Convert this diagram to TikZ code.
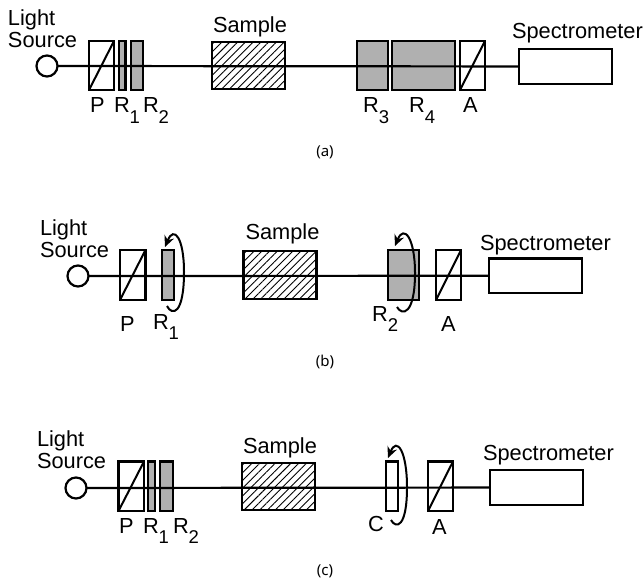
\documentclass[tikz,border=0pt]{standalone}
\usepackage{fontspec}
\setmainfont{Liberation Sans}
\newfontfamily\capfont{Noto Sans}
\usetikzlibrary{arrows.meta,patterns.meta}
\definecolor{waveplate}{HTML}{B0B0B0}
\newcommand{\bx}[6]{\node[#2,minimum width={(#5-#3)*1pt},minimum height={(#6-#4)*1pt}] (#1) at ({(#3+#5)/2},{(#4+#6)/2}) {};}
\newcommand{\rsub}[1]{R\raisebox{-10.5pt}{\fontsize{18.5}{18.5}\selectfont #1}}
\newcommand{\lbl}[4]{\node[txt] (#1) at (#2,#3) {#4};}
\tikzset{
 x=1pt,y=-1pt,
 part/.style={draw=black,line width=2.2pt,inner sep=0pt,outer sep=0pt},
 clearbox/.style={part,fill=white},
 plate/.style={part,fill=waveplate},
 samplebox/.style={part,pattern={Lines[angle=45,distance=5.5pt,line width=0.9pt]}},
 src/.style={draw=black,line width=2.2pt,circle,fill=white,minimum size=21pt,inner sep=0pt,outer sep=0pt},
 beam/.style={line width=2.2pt},
 diag/.style={line width=2pt},
 turn/.style={line width=2pt,-{Stealth[length=11pt,width=10pt]}},
 txt/.style={anchor=base west,inner sep=0pt,outer sep=0pt,font=\fontsize{21.8}{21.8}\selectfont},
 captxt/.style={inner sep=0pt,font=\capfont\fontsize{15}{15}\selectfont},
}
\begin{document}
\begin{tikzpicture}
\useasboundingbox (0,0) rectangle (644,583);
% ---------- (a)
\node[src] (as) at (47,66) {};
\bx{ap}{clearbox}{89}{41}{114}{90}
\bx{ar1}{plate}{119}{41}{125.5}{90}
\bx{ar2}{plate}{131}{41}{143}{90}
\bx{asa}{samplebox}{212}{42}{285}{89}
\bx{ar3}{plate}{357}{41}{388}{90}
\bx{ar4}{plate}{392}{41}{455}{90}
\bx{aa}{clearbox}{460}{41}{485}{90}
\bx{asp}{clearbox}{519}{49}{612}{84}
\draw[beam] (as) -- (asp);
\draw[diag] (ap.south west) -- (ap.north east);
\draw[diag] (aa.south west) -- (aa.north east);
\lbl{al1}{8}{26}{Light}
\lbl{al2}{8}{47.5}{Source}
\lbl{al3}{213}{33}{Sample}
\lbl{al4}{512}{39}{Spectrometer}
\lbl{al5}{90}{113}{P}
\lbl{al6}{114}{113}{\rsub{1}}
\lbl{al7}{143}{113}{\rsub{2}}
\lbl{al8}{363}{113}{\rsub{3}}
\lbl{al9}{409}{113}{\rsub{4}}
\lbl{al10}{463}{113}{A}
\node[captxt] (acap) at (325,152) {(a)};
% ---------- (b)
\node[src] (bs) at (78,276) {};
\bx{bp}{clearbox}{120}{250}{145.5}{300}
\bx{br1}{plate}{162}{250}{174}{300}
\bx{bsa}{samplebox}{243.5}{251}{316.5}{299}
\bx{br2}{plate}{388}{250}{419}{300}
\bx{ba}{clearbox}{436}{250}{461}{300}
\bx{bsp}{clearbox}{489}{258.5}{582}{293}
\draw[beam] (bs) -- (bsp);
\draw[diag] (bp.south west) -- (bp.north east);
\draw[diag] (ba.south west) -- (ba.north east);
\coordinate (bt1) at (167,306);
\coordinate (bh1) at (165,247);
\draw[turn] (bt1) .. controls (172,316) and (184,315) .. (184,272) .. controls (184,238) and (174,225) .. (bh1);
\coordinate (bt2) at (397,307);
\coordinate (bh2) at (395,246);
\draw[turn] (bt2) .. controls (402,316) and (415,315) .. (415,273) .. controls (415,238) and (404,224) .. (bh2);
\lbl{bl1}{40}{235}{Light}
\lbl{bl2}{40}{257}{Source}
\lbl{bl3}{245.5}{239}{Sample}
\lbl{bl4}{480}{250}{Spectrometer}
\lbl{bl5}{120}{331}{P}
\lbl{bl6}{153}{329}{\rsub{1}}
\lbl{bl7}{372}{321}{\rsub{2}}
\lbl{bl8}{441}{331}{A}
\node[captxt] (bcap) at (325,362) {(b)};
% ---------- (c)
\node[src] (cs) at (76,488) {};
\bx{cp}{clearbox}{118.5}{461.5}{144}{511}
\bx{cr1}{plate}{148}{461.5}{155}{511}
\bx{cr2}{plate}{160}{461.5}{173}{511}
\bx{csa}{samplebox}{242}{463}{315}{510}
\bx{cc}{clearbox}{386}{461.5}{398}{511}
\bx{ca}{clearbox}{428}{461.5}{453}{511}
\bx{csp}{clearbox}{490}{470}{583}{505}
\draw[beam] (cs) -- (csp);
\draw[diag] (cp.south west) -- (cp.north east);
\draw[diag] (ca.south west) -- (ca.north east);
\coordinate (ct) at (391,520);
\coordinate (ch) at (388,458);
\draw[turn] (ct) .. controls (396,529) and (407,528) .. (407,487) .. controls (407,452) and (397,436) .. (ch);
\lbl{cl1}{37}{446}{Light}
\lbl{cl2}{37}{468}{Source}
\lbl{cl3}{243}{453}{Sample}
\lbl{cl4}{483}{460}{Spectrometer}
\lbl{cl5}{119}{533}{P}
\lbl{cl6}{143}{533}{\rsub{1}}
\lbl{cl7}{173}{533}{\rsub{2}}
\lbl{cl8}{368}{531}{C}
\lbl{cl9}{432}{534}{A}
\node[captxt] (ccap) at (325,571) {(c)};
\end{tikzpicture}
\end{document}
